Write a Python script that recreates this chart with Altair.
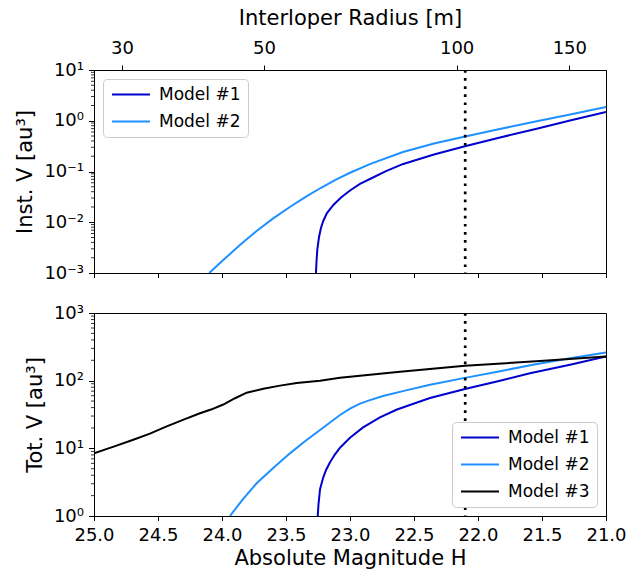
import math
import altair as alt
import pandas as pd

# ---------------- data ----------------
M1_INST_H = [23.266, 23.262, 23.255, 23.242, 23.227, 23.209, 23.180, 23.130, 23.070, 23.000,
             22.922, 22.844, 22.719, 22.584, 22.344, 22.102, 21.828, 21.541, 21.281, 21.000]
M1_INST_V = [1.0e-3, 1.65e-3, 2.97e-3, 5.12e-3, 7.71e-3, 1.06e-2, 1.52e-2, 2.19e-2, 3.08e-2, 4.23e-2,
             5.68e-2, 7.11e-2, 0.102, 0.141, 0.216, 0.314, 0.468, 0.697, 1.01, 1.49]

M2_INST_H = [24.10, 23.99, 23.86, 23.73, 23.60, 23.47, 23.35, 23.23, 23.11, 23.00,
             22.84, 22.586, 22.344, 22.10, 21.83, 21.57, 21.28, 21.00]
M2_INST_V = [1.0e-3, 1.80e-3, 3.56e-3, 6.73e-3, 1.19e-2, 2.00e-2, 3.13e-2, 4.73e-2, 6.92e-2, 9.44e-2,
             0.141, 0.242, 0.356, 0.490, 0.687, 0.944, 1.33, 1.87]

M1_TOT_H = [23.252, 23.246, 23.234, 23.211, 23.188, 23.156, 23.117, 23.078, 23.000, 22.898,
            22.766, 22.633, 22.375, 22.102, 21.828, 21.594, 21.281, 21.000]
M1_TOT_V = [1.0, 1.50, 2.49, 3.62, 4.74, 6.22, 8.17, 10.2, 14.3, 20.4,
            28.6, 37.5, 55.3, 75.5, 100.0, 129.0, 172.0, 228.0]

M2_TOT_H = [23.938, 23.836, 23.729, 23.602, 23.469, 23.352, 23.234, 23.156, 23.078, 23.000,
            22.922, 22.844, 22.742, 22.570, 22.375, 22.102, 21.828, 21.570, 21.281, 21.000]
M2_TOT_V = [1.0, 1.78, 3.05, 5.08, 8.43, 12.7, 18.7, 24.1, 31.1, 38.7,
            45.9, 51.6, 59.2, 71.3, 87.3, 110.0, 138.0, 172.0, 214.0, 261.0]

M3_TOT_H = [25.000, 24.852, 24.693, 24.563, 24.432, 24.305, 24.172, 24.086, 23.990, 23.898,
            23.807, 23.677, 23.547, 23.416, 23.234, 23.078, 22.609, 22.102, 21.516, 21.000]
M3_TOT_V = [8.43, 10.5, 13.4, 16.5, 21.1, 26.3, 33.0, 37.4, 44.4, 55.0,
            66.4, 76.0, 84.5, 92.5, 100.0, 110.0, 135.0, 166.0, 195.0, 228.0]

H_LINE = [22.1]
H_RANGE = [21.0, 25.0]
H_TICKS = [25.0, 24.5, 24.0, 23.5, 23.0, 22.5, 22.0, 21.5, 21.0]
R_TICKS = [30, 50, 100, 150]
INST_DECADES = [1e-3, 1e-2, 1e-1, 1e0, 1e1]
TOT_DECADES = [1e0, 1e1, 1e2, 1e3]
MODELS = ["Model #1", "Model #2", "Model #3"]
COLORS = ["#0000cd", "#1e90ff", "#000000"]
ALBEDO = 0.06

FONT = "DejaVu Sans"
W, HT = 512, 203
TICK_FS = 18
TITLE_FS = 21
LEGEND_FS = 17


def radius_m(h):
    # diameter D = 1329 km / sqrt(p) * 10^(-H/5); radius in metres
    return 1329e3 / 2.0 / math.sqrt(ALBEDO) * 10 ** (-h / 5.0)


R_DOMAIN = [radius_m(H_RANGE[1]), radius_m(H_RANGE[0])]


def frame(h, v, name):
    return pd.DataFrame({"H": h, "V": v, "Model": name})


def minor_ticks(decades):
    out = []
    for d in decades[:-1]:
        for k in range(2, 10):
            out.append(d * k)
    return out


SUP_EXPR = ("'10' + ({'-3':'⁻³','-2':'⁻²','-1':'⁻¹','0':'⁰','1':'¹','2':'²','3':'³'})"
            "['' + round(log(datum.value) / LN10)]")

inst = pd.concat([frame(M1_INST_H, M1_INST_V, MODELS[0]),
                  frame(M2_INST_H, M2_INST_V, MODELS[1])])
tot = pd.concat([frame(M1_TOT_H, M1_TOT_V, MODELS[0]),
                 frame(M2_TOT_H, M2_TOT_V, MODELS[1]),
                 frame(M3_TOT_H, M3_TOT_V, MODELS[2])])

x_scale = alt.Scale(domain=H_RANGE, reverse=True, nice=False, zero=False)


def panel(df, models, colors, y_domain, decades, y_title, legend_orient, bottom):
    if bottom:
        x_axis = alt.Axis(values=H_TICKS, format=".1f", title="Absolute Magnitude H",
                          tickSize=4.5, labelPadding=6, titlePadding=3,
                          labelFlush=False, labelOverlap=False)
    else:
        x_axis = alt.Axis(values=H_TICKS, labels=False, title=None, tickSize=4.5)
    y_scale = alt.Scale(type="log", domain=y_domain, nice=False)
    y_axis = alt.Axis(values=decades, labelExpr=SUP_EXPR, title=y_title,
                      tickSize=5.5, labelPadding=5, titlePadding=8,
                      labelFlush=False, labelOverlap=False)
    x_enc = alt.X("H:Q", scale=x_scale, axis=x_axis)

    lines = alt.Chart(df).mark_line(strokeWidth=2, clip=True).encode(
        x=x_enc,
        y=alt.Y("V:Q", scale=y_scale, axis=y_axis),
        color=alt.Color("Model:N", scale=alt.Scale(domain=models, range=colors),
                        legend=alt.Legend(orient=legend_orient, offset=9, title=None,
                                          symbolType="M-1.857,0H9", symbolSize=49,
                                          symbolStrokeWidth=2, labelFontSize=LEGEND_FS,
                                          labelFont=FONT, labelOffset=32,
                                          fillColor="white", strokeColor="#cccccc",
                                          cornerRadius=4, padding=7, rowPadding=9)),
    )
    rule = alt.Chart(pd.DataFrame({"H": H_LINE})).mark_rule(
        color="black", strokeWidth=2.7, strokeDash=[2.7, 5.4]
    ).encode(x=x_enc)
    minor = alt.Chart(pd.DataFrame({"V": minor_ticks(decades)})).mark_rule(
        color="black", strokeWidth=0.8
    ).encode(y=alt.Y("V:Q", scale=y_scale, axis=y_axis),
             x=alt.value(0), x2=alt.value(-3))
    return alt.layer(lines, rule, minor).properties(width=W, height=HT)


top_inner = panel(inst, MODELS[:2], COLORS[:2], [1e-3, 1e1], INST_DECADES,
                  "Inst. V [au³]", "top-left", False)

radius_layer = alt.Chart(pd.DataFrame({"r": R_TICKS})).mark_point(opacity=0).encode(
    x=alt.X("r:Q",
            scale=alt.Scale(type="log", domain=R_DOMAIN, nice=False, zero=False),
            axis=alt.Axis(orient="top", values=R_TICKS, format="d",
                          title="Interloper Radius [m]", tickSize=5,
                          labelPadding=8, titlePadding=11,
                          labelFlush=False, labelOverlap=False))
)

top = alt.layer(top_inner, radius_layer).resolve_scale(x="independent").properties(
    width=W, height=HT)

bottom = panel(tot, MODELS, COLORS, [1e0, 1e3], TOT_DECADES,
               "Tot. V [au³]", "bottom-right", True)

chart = alt.vconcat(top, bottom, spacing=20).resolve_scale(color="independent").properties(
    padding={"left": 14, "top": 6, "right": 0, "bottom": 0}
).configure(font=FONT).configure_axis(
    labelFont=FONT, titleFont=FONT, labelFontSize=TICK_FS, titleFontSize=TITLE_FS,
    labelColor="black", titleColor="black", tickColor="black", domainColor="black",
    domainWidth=1, tickWidth=1, grid=False, titleFontWeight="normal",
).configure_view(stroke="black", strokeWidth=1)

chart.save("out.html", embed_options={"renderer": "svg", "actions": False})
